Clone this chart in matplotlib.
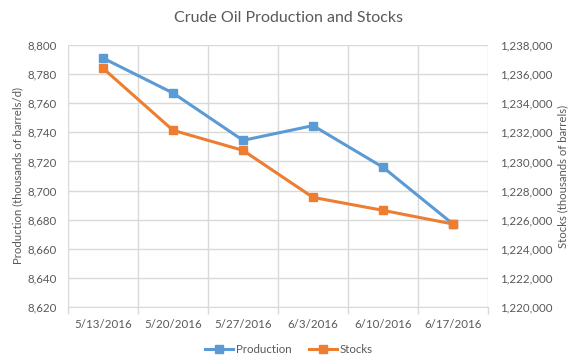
import matplotlib
matplotlib.use("Agg")
import matplotlib.pyplot as plt
from matplotlib.ticker import FuncFormatter, FixedLocator

dates = ["5/13/2016", "5/20/2016", "5/27/2016", "6/3/2016", "6/10/2016", "6/17/2016"]
production = [8791, 8767, 8734.5, 8744.6, 8716, 8677]
stocks = [1236400, 1232140, 1230760, 1227530, 1226640, 1225700]

plt.rcParams['font.family'] = ['Lato', 'DejaVu Sans']
txt = '#595959'
grid = '#D9D9D9'
blue = '#5B9BD5'
orange = '#ED7D31'
fs = 8.3

fig = plt.figure(figsize=(5.78, 3.63), dpi=100)
ax = fig.add_axes([68/578, 56/363, 420/578, 262/363])
ax2 = ax.twinx()

x = list(range(len(dates)))
ax.plot(x, production, color=blue, lw=2.2, marker='s', ms=5.5, zorder=3, label='Production')
ax2.plot(x, stocks, color=orange, lw=2.2, marker='s', ms=5.5, zorder=3, label='Stocks')

ax.set_xlim(-0.5, len(dates) - 0.5)
ax.set_ylim(8620, 8800)
ax.set_yticks(range(8620, 8801, 20))
ax2.set_ylim(1220000, 1238000)
ax2.set_yticks(range(1220000, 1238001, 2000))
fmt = FuncFormatter(lambda v, p: f"{int(v):,}")
ax.yaxis.set_major_formatter(fmt)
ax2.yaxis.set_major_formatter(fmt)

ax.set_xticks(x)
ax.set_xticklabels(dates)
ax.xaxis.set_minor_locator(FixedLocator([i - 0.5 for i in range(len(dates) + 1)]))
ax.tick_params(axis='x', which='major', length=0, pad=9, labelsize=fs, labelcolor=txt)
ax.tick_params(axis='x', which='minor', length=5, color=grid, width=1)
ax.grid(axis='x', which='minor', color=grid, lw=1)
ax.grid(axis='y', which='major', color=grid, lw=1)
ax.set_axisbelow(True)
ax.tick_params(axis='y', length=0, pad=8, labelsize=fs, labelcolor=txt)
ax2.tick_params(axis='y', length=0, pad=9, labelsize=fs, labelcolor=txt)

for a in (ax, ax2):
    for s in a.spines.values():
        s.set_visible(False)
ax.spines['bottom'].set_visible(True)
ax.spines['bottom'].set_color(grid)

ax.set_ylabel("Production (thousands of barrels/d)", fontsize=8.2, color=txt)
ax.yaxis.set_label_coords(-0.106, 0.5)
ax2.set_ylabel("Stocks (thousands of barrels)", fontsize=8.2, color=txt, rotation=90)
ax2.yaxis.set_label_coords(1.164, 0.5)

fig.suptitle("Crude Oil Production and Stocks", x=0.5, y=0.97, fontsize=11.5, color=txt)

h1, l1 = ax.get_legend_handles_labels()
h2, l2 = ax2.get_legend_handles_labels()
fig.legend(h1 + h2, l1 + l2, loc='center', bbox_to_anchor=(0.5, 0.038), ncol=2, frameon=False,
           fontsize=fs, labelcolor=txt, handlelength=2.4, columnspacing=1.5, handletextpad=0.3)

fig.savefig("out.png", dpi=100)
